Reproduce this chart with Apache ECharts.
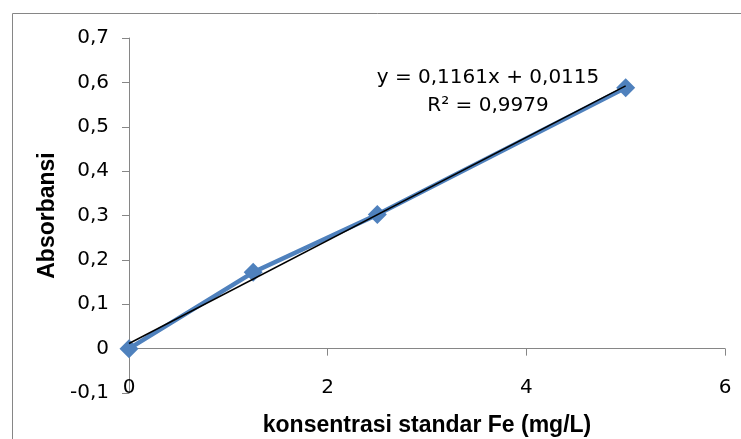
<!DOCTYPE html>
<html>
<head>
<meta charset="utf-8">
<script src="https://cdn.jsdelivr.net/npm/echarts@6/dist/echarts.min.js"></script>
<style>
  html, body { margin: 0; padding: 0; background: #fff; }
  #chart { width: 741px; height: 439px; }
</style>
</head>
<body>
<div id="chart"></div>
<script>
  // data
  var konsentrasi = [0, 1.25, 2.5, 5];
  var absorbansi = [0, 0.172, 0.302, 0.588];
  // linear trendline endpoints (y = 0,1161x + 0,0115)
  var trendX = [0, 5];
  var trendY = [0.0115, 0.592];
  var equationText = 'y = 0,1161x + 0,0115';
  var r2Text = 'R² = 0,9979';

  var font = '"DejaVu Sans", sans-serif';
  var titleFont = '"Liberation Sans", Arial, sans-serif';

  function comma (v) {
    if (v === 0) return '0';
    return String(Math.round(v * 10) / 10).replace('.', ',');
  }

  var chart = echarts.init(document.getElementById('chart'));
  var option = {
    backgroundColor: '#fff',
    animation: false,
    grid: { left: 129, right: 16, top: 38, bottom: 46, outerBoundsMode: 'none', containLabel: false },
    xAxis: {
      type: 'value',
      min: 0,
      max: 6,
      interval: 2,
      name: 'konsentrasi standar Fe (mg/L)',
      nameLocation: 'middle',
      nameGap: 21,
      nameTextStyle: { fontFamily: titleFont, fontWeight: 'bold', fontSize: 23, color: '#000' },
      axisLine: { onZero: true, lineStyle: { color: '#868686', width: 1 } },
      axisTick: { show: true, length: 7, lineStyle: { color: '#868686' } },
      axisLabel: { margin: -15, fontFamily: font, fontSize: 20, color: '#000' },
      splitLine: { show: false }
    },
    yAxis: {
      type: 'value',
      min: -0.1,
      max: 0.7,
      interval: 0.1,
      name: 'Absorbansi',
      nameLocation: 'middle',
      nameGap: 68,
      nameTextStyle: { fontFamily: titleFont, fontWeight: 'bold', fontSize: 23, color: '#000' },
      axisLine: { show: true, lineStyle: { color: '#868686', width: 1 } },
      axisTick: { show: true, length: 7, lineStyle: { color: '#868686' } },
      axisLabel: { margin: 20, fontFamily: font, fontSize: 20, color: '#000', formatter: comma },
      splitLine: { show: false }
    },
    graphic: [
      {
        type: 'rect',
        shape: { x: 12.5, y: 13.5, width: 760, height: 460 },
        style: { fill: 'none', stroke: '#868686', lineWidth: 1 },
        silent: true
      },
      {
        type: 'text',
        x: 488, y: 78,
        style: { text: equationText, fontFamily: font, fontSize: 20, fill: '#000', align: 'center', verticalAlign: 'middle' }
      },
      {
        type: 'text',
        x: 488, y: 106,
        style: { text: r2Text, fontFamily: font, fontSize: 20, fill: '#000', align: 'center', verticalAlign: 'middle' }
      }
    ],
    series: [
      {
        type: 'line',
        data: konsentrasi.map(function (x, i) { return [x, absorbansi[i]]; }),
        symbol: 'diamond',
        symbolSize: 19,
        itemStyle: { color: '#4F81BD' },
        lineStyle: { color: '#4F81BD', width: 4.5 },
        z: 2
      },
      {
        type: 'line',
        data: trendX.map(function (x, i) { return [x, trendY[i]]; }),
        symbol: 'none',
        lineStyle: { color: '#000', width: 1.5 },
        z: 3
      }
    ]
  };
  chart.setOption(option);
</script>
</body>
</html>
